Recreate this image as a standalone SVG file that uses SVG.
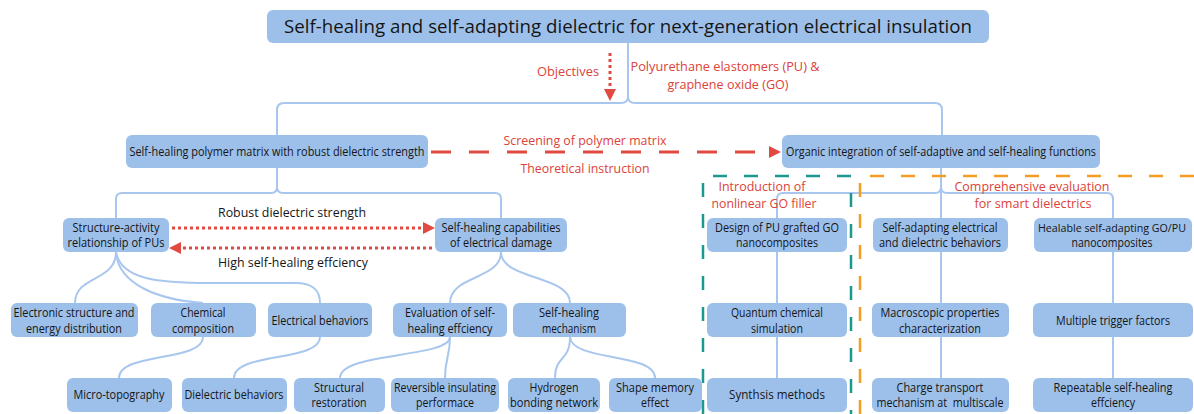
<svg xmlns="http://www.w3.org/2000/svg" width="1194" height="414" viewBox="0 0 1194 414">
<style>
.bx{fill:#9dc0ea}
.t{font-family:"Open Sans","DejaVu Sans",sans-serif;font-size:12.5px;fill:#151515;text-anchor:middle}
.ti{font-size:18.5px}
.r{fill:#dc4238;font-size:13px}
.c{fill:none;stroke:#a9c7ee;stroke-width:2}
.dot{fill:none;stroke:#e04a40;stroke-width:3;stroke-dasharray:3 3}
.dash{fill:none;stroke:#e04a40;stroke-width:3;stroke-dasharray:20 18}
.teal{fill:none;stroke:#1b9890;stroke-width:2.5;stroke-dasharray:14 17}
.org{fill:none;stroke:#f59d22;stroke-width:2.5;stroke-dasharray:14 17}
</style>
<defs>
<marker id="ah" markerUnits="userSpaceOnUse" markerWidth="12" markerHeight="12" refX="0" refY="6" orient="auto">
<path d="M0,0 L12,6 L0,12 z" fill="#e04a40"/>
</marker>
</defs>
<g id="connectors">
<path class="c" d="M628 43 V96 Q628 103 621 103 H284 Q277 103 277 110 V135 M628 96 Q628 103 635 103 H935 Q942 103 942 110 V135"/>
<path class="c" d="M277 168 V187 Q277 193 271 193 H122 Q116 193 116 199 V218 M277 187 Q277 193 283 193 H495 Q501 193 501 199 V218"/>
<path class="c" d="M941 168 V218 M941 187 Q941 193 935 193 H783 Q777 193 777 199 V218 M941 187 Q941 193 947 193 H1107 Q1113 193 1113 199 V218"/>
<path class="c" d="M777 252 V303 M777 337 V378 M941 252 V303 M941 337 V378 M1113 252 V303 M1113 337 V378"/>
<path class="c" d="M116 252 C116 282 75 275 75 303"/>
<path class="c" d="M116 252 C118 285 160 300 203 303"/>
<path class="c" d="M116 252 C121 280 160 283 210 283 L295 283 C313 283 320 290 320 303"/>
<path class="c" d="M203 337 C203 362 119 352 119 378"/>
<path class="c" d="M320 337 C320 362 234 352 234 378"/>
<path class="c" d="M501 252 C501 280 450 275 450 303"/>
<path class="c" d="M501 252 C501 280 570 275 570 303"/>
<path class="c" d="M450 337 C450 357 445 358 445 378"/>
<path class="c" d="M450 337 C450 358 340 352 340 378"/>
<path class="c" d="M570 337 C570 362 555 355 555 378"/>
<path class="c" d="M570 337 C572 362 655 352 655 378"/>
<path class="dot" d="M610 53 V89" marker-end="url(#ah)"/>
<path class="dash" d="M431 152 H769" marker-end="url(#ah)"/>
<path class="dot" d="M172 228 H423" marker-end="url(#ah)"/>
<path class="dot" d="M432 248 H181" marker-end="url(#ah)"/>
</g>
<g id="regions">
<path class="teal" d="M703 414 V176 H851 V414"/>
<path class="org" d="M860 414 V176 H1194"/>
</g>
<g id="n-title"><rect class="bx" x="267" y="10" width="722" height="33" rx="6"/>
<text class="t ti" x="628" y="33" textLength="688" lengthAdjust="spacingAndGlyphs">Self-healing and self-adapting dielectric for next-generation electrical insulation</text></g>
<g id="n-a"><rect class="bx" x="126" y="135" width="302" height="33" rx="6"/>
<text class="t" x="277" y="156" textLength="295" lengthAdjust="spacingAndGlyphs">Self-healing polymer matrix with robust dielectric strength</text></g>
<g id="n-b"><rect class="bx" x="782" y="135" width="318" height="33" rx="6"/>
<text class="t" x="941" y="156" textLength="310" lengthAdjust="spacingAndGlyphs">Organic integration of self-adaptive and self-healing functions</text></g>
<g id="n-c"><rect class="bx" x="63" y="218" width="106" height="34" rx="6"/>
<text class="t" x="116" y="232" textLength="87" lengthAdjust="spacingAndGlyphs">Structure-activity</text>
<text class="t" x="116" y="247" textLength="97" lengthAdjust="spacingAndGlyphs">relationship of PUs</text></g>
<g id="n-d"><rect class="bx" x="435" y="218" width="132" height="34" rx="6"/>
<text class="t" x="501" y="232" textLength="119" lengthAdjust="spacingAndGlyphs">Self-healing capabilities</text>
<text class="t" x="501" y="247" textLength="102" lengthAdjust="spacingAndGlyphs">of electrical damage</text></g>
<g id="n-p"><rect class="bx" x="707" y="218" width="140" height="34" rx="6"/>
<text class="t" x="777" y="232" textLength="124" lengthAdjust="spacingAndGlyphs">Design of PU grafted GO</text>
<text class="t" x="777" y="247" textLength="82" lengthAdjust="spacingAndGlyphs">nanocomposites</text></g>
<g id="n-q"><rect class="bx" x="873" y="218" width="135" height="34" rx="6"/>
<text class="t" x="940" y="232" textLength="115" lengthAdjust="spacingAndGlyphs">Self-adapting electrical</text>
<text class="t" x="940" y="247" textLength="122" lengthAdjust="spacingAndGlyphs">and dielectric behaviors</text></g>
<g id="n-r"><rect class="bx" x="1034" y="218" width="158" height="34" rx="6"/>
<text class="t" x="1112" y="232" style="font-size:11px" textLength="148" lengthAdjust="spacingAndGlyphs">Healable self-adapting GO/PU</text>
<text class="t" x="1112" y="247" textLength="81" lengthAdjust="spacingAndGlyphs">nanocomposites</text></g>
<g id="n-e"><rect class="bx" x="11" y="303" width="127" height="34" rx="6"/>
<text class="t" x="74" y="317" textLength="121" lengthAdjust="spacingAndGlyphs">Electronic structure and</text>
<text class="t" x="74" y="333" textLength="96" lengthAdjust="spacingAndGlyphs">energy distribution</text></g>
<g id="n-f"><rect class="bx" x="151" y="303" width="105" height="34" rx="6"/>
<text class="t" x="203" y="317" textLength="45" lengthAdjust="spacingAndGlyphs">Chemical</text>
<text class="t" x="203" y="333" textLength="62" lengthAdjust="spacingAndGlyphs">composition</text></g>
<g id="n-g"><rect class="bx" x="268" y="303" width="104" height="34" rx="6"/>
<text class="t" x="320" y="325" textLength="97" lengthAdjust="spacingAndGlyphs">Electrical behaviors</text></g>
<g id="n-n"><rect class="bx" x="393" y="303" width="114" height="34" rx="6"/>
<text class="t" x="450" y="317" textLength="90" lengthAdjust="spacingAndGlyphs">Evaluation of self-</text>
<text class="t" x="450" y="333" textLength="85" lengthAdjust="spacingAndGlyphs">healing effciency</text></g>
<g id="n-o"><rect class="bx" x="513" y="303" width="113" height="34" rx="6"/>
<text class="t" x="569" y="317" textLength="60" lengthAdjust="spacingAndGlyphs">Self-healing</text>
<text class="t" x="569" y="333" textLength="54" lengthAdjust="spacingAndGlyphs">mechanism</text></g>
<g id="n-s"><rect class="bx" x="707" y="303" width="140" height="34" rx="6"/>
<text class="t" x="777" y="317" textLength="92" lengthAdjust="spacingAndGlyphs">Quantum chemical</text>
<text class="t" x="777" y="333" textLength="52" lengthAdjust="spacingAndGlyphs">simulation</text></g>
<g id="n-t"><rect class="bx" x="872" y="303" width="137" height="34" rx="6"/>
<text class="t" x="940" y="317" textLength="119" lengthAdjust="spacingAndGlyphs">Macroscopic properties</text>
<text class="t" x="940" y="333" textLength="82" lengthAdjust="spacingAndGlyphs">characterization</text></g>
<g id="n-u"><rect class="bx" x="1033" y="303" width="160" height="34" rx="6"/>
<text class="t" x="1113" y="325" textLength="114" lengthAdjust="spacingAndGlyphs">Multiple trigger factors</text></g>
<g id="n-h"><rect class="bx" x="67" y="378" width="105" height="34" rx="6"/>
<text class="t" x="119" y="399" textLength="91" lengthAdjust="spacingAndGlyphs">Micro-topography</text></g>
<g id="n-i"><rect class="bx" x="182" y="378" width="105" height="34" rx="6"/>
<text class="t" x="234" y="399" textLength="99" lengthAdjust="spacingAndGlyphs">Dielectric behaviors</text></g>
<g id="n-j"><rect class="bx" x="294" y="378" width="91" height="34" rx="6"/>
<text class="t" x="339" y="392" textLength="50" lengthAdjust="spacingAndGlyphs">Structural</text>
<text class="t" x="339" y="407" textLength="55" lengthAdjust="spacingAndGlyphs">restoration</text></g>
<g id="n-k"><rect class="bx" x="391" y="378" width="108" height="34" rx="6"/>
<text class="t" x="445" y="392" textLength="102" lengthAdjust="spacingAndGlyphs">Reversible insulating</text>
<text class="t" x="445" y="407" textLength="58" lengthAdjust="spacingAndGlyphs">performace</text></g>
<g id="n-l"><rect class="bx" x="508" y="378" width="92" height="34" rx="6"/>
<text class="t" x="554" y="392" textLength="49" lengthAdjust="spacingAndGlyphs">Hydrogen</text>
<text class="t" x="554" y="407" textLength="88" lengthAdjust="spacingAndGlyphs">bonding network</text></g>
<g id="n-m"><rect class="bx" x="609" y="378" width="93" height="34" rx="6"/>
<text class="t" x="655" y="392" textLength="78" lengthAdjust="spacingAndGlyphs">Shape memory</text>
<text class="t" x="655" y="407" textLength="28" lengthAdjust="spacingAndGlyphs">effect</text></g>
<g id="n-v"><rect class="bx" x="707" y="378" width="140" height="34" rx="6"/>
<text class="t" x="777" y="399" textLength="96" lengthAdjust="spacingAndGlyphs">Synthsis methods</text></g>
<g id="n-w"><rect class="bx" x="872" y="378" width="137" height="34" rx="6"/>
<text class="t" x="940" y="392" textLength="87" lengthAdjust="spacingAndGlyphs">Charge transport</text>
<text class="t" x="940" y="407" textLength="127" lengthAdjust="spacingAndGlyphs" xml:space="preserve">mechanism at  multiscale</text></g>
<g id="n-x"><rect class="bx" x="1033" y="378" width="160" height="34" rx="6"/>
<text class="t" x="1113" y="392" textLength="119" lengthAdjust="spacingAndGlyphs">Repeatable self-healing</text>
<text class="t" x="1113" y="407" textLength="44" lengthAdjust="spacingAndGlyphs">effciency</text></g>
<g id="labels">
<text class="t r" x="568" y="76" textLength="62" lengthAdjust="spacingAndGlyphs">Objectives</text>
<text class="t r" x="725" y="71" textLength="189" lengthAdjust="spacingAndGlyphs">Polyurethane elastomers (PU) &amp;</text>
<text class="t r" x="728" y="89" textLength="121" lengthAdjust="spacingAndGlyphs">graphene oxide (GO)</text>
<text class="t r" x="585" y="145" textLength="163" lengthAdjust="spacingAndGlyphs">Screening of polymer matrix</text>
<text class="t r" x="585" y="173" textLength="129" lengthAdjust="spacingAndGlyphs">Theoretical instruction</text>
<text class="t" x="292" y="217" style="font-size:13px" textLength="148" lengthAdjust="spacingAndGlyphs">Robust dielectric strength</text>
<text class="t" x="293" y="267" style="font-size:13px" textLength="150" lengthAdjust="spacingAndGlyphs">High self-healing effciency</text>
<text class="t r" x="762" y="191" textLength="87" lengthAdjust="spacingAndGlyphs">Introduction of</text>
<text class="t r" x="764" y="208" textLength="105" lengthAdjust="spacingAndGlyphs">nonlinear GO filler</text>
<text class="t r" x="1032" y="191" textLength="155" lengthAdjust="spacingAndGlyphs">Comprehensive evaluation</text>
<text class="t r" x="1033" y="208" textLength="117" lengthAdjust="spacingAndGlyphs">for smart dielectrics</text>
</g>
</svg>
